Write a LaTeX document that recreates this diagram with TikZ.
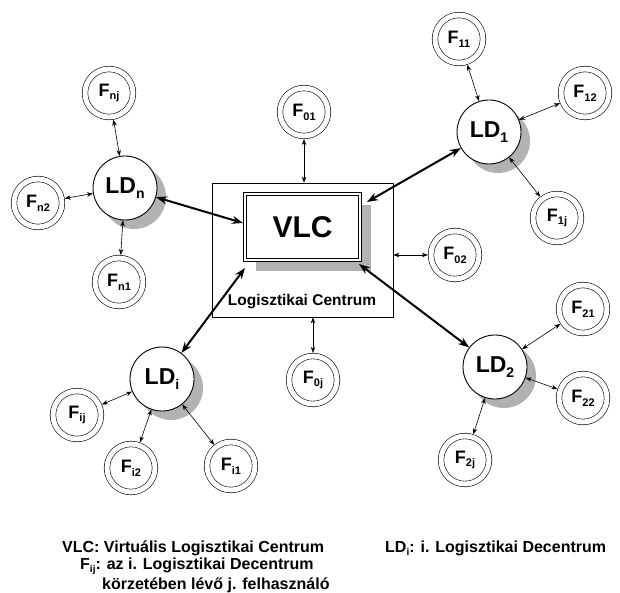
\documentclass[tikz,border=0pt]{standalone}
\usepackage{fontspec}
\setmainfont{Liberation Sans}
\usetikzlibrary{arrows.meta,calc,shadows}
\definecolor{shade}{RGB}{178,178,178}
\newcommand{\fsub}[1]{\raisebox{-0.4ex}{\fontsize{11}{11}\selectfont #1}}
\newcommand{\legsub}[1]{\raisebox{-0.4ex}{\fontsize{10}{10}\selectfont #1}}
\newcommand{\ldsub}[1]{\raisebox{-0.4ex}{\fontsize{14}{14}\selectfont #1}}

\begin{document}
\begin{tikzpicture}[x=1pt,y=-1pt,
  user/.style={circle,draw,line width=0.6pt,double,double distance=5pt,
    minimum size=48pt,inner sep=0pt,outer sep=3.1pt,
    font=\fontsize{18}{18}\selectfont\bfseries},
  decentr/.style={circle,draw,line width=0.9pt,fill=white,minimum size=64pt,
    inner sep=0pt,font=\fontsize{23}{23}\selectfont\bfseries,
    drop shadow={shadow xshift=9pt,shadow yshift=-9pt,fill=shade,opacity=1}},
  link/.style={{Stealth[length=6pt,width=4.5pt]}-{Stealth[length=6pt,width=4.5pt]},line width=0.6pt},
  trunk/.style={{Stealth[length=11pt,width=8pt]}-{Stealth[length=11pt,width=8pt]},line width=2pt},
  legend/.style={anchor=west,inner sep=0pt,font=\fontsize{16}{16}\selectfont\bfseries}]
\useasboundingbox (0,0) rectangle (620,593);
\node[draw,line width=0.8pt,minimum width=181pt,minimum height=134pt] (LC) at (302.5,250) {};
\node[font=\fontsize{15.5}{15.5}\selectfont\bfseries] (lcname) at (302,302) {Logisztikai Centrum};
\node[draw,fill=white,line width=0.8pt,double,double distance=2pt,minimum width=115pt,
  minimum height=66pt,outer sep=0pt,font=\fontsize{30}{30}\selectfont\bfseries,
  drop shadow={shadow xshift=11pt,shadow yshift=-11pt,fill=shade,opacity=1}] (VLC) at (302.5,227) {VLC};
\node[decentr] (LD1) at (489,132) {LD\ldsub{1}};
\node[decentr] (LD2) at (495,367) {LD\ldsub{2}};
\node[decentr] (LDi) at (162,379) {LD\ldsub{i}};
\node[decentr] (LDn) at (125,188) {LD\ldsub{n}};
\foreach \n/\x/\y/\s in {
F01/304/112/01, F02/455/255/02, F0j/313/380/0j,
F11/459/39/11, F12/585/93/12, F1j/557/218/1j,
F21/583/309/21, F22/583/398/22, F2j/465/460/2j,
Fij/77/415/ij, Fi2/131/468/i2, Fi1/231/466/i1,
Fnj/109/93/nj, Fn2/38/203/n2, Fn1/119/282/n1}{
  \node[user] (\n) at (\x,\y) {F\fsub{\s}};
}
\foreach \a/\b in {F11/LD1, F12/LD1, F1j/LD1, F21/LD2, F22/LD2, F2j/LD2,
  Fij/LDi, Fi2/LDi, Fi1/LDi, Fnj/LDn, Fn2/LDn, Fn1/LDn}{
  \draw[link] (\a) -- (\b);
}
\draw[link] (F01) -- (F01 |- LC.north);
\draw[link] (F02) -- (LC.east |- F02);
\draw[link] (F0j) -- (F0j |- LC.south);
\draw[trunk] (LDn) -- ($(VLC.west)+(-2,-4)$);
\draw[trunk] (LD1) -- ($(VLC.north east)+(7,8)$);
\draw[trunk] (LD2) -- ($(VLC.south east)+(-1,4)$);
\draw[trunk] (LDi) -- ($(VLC.south west)+(0,8)$);
\node[legend] (legvlc) at (62,548) {VLC: Virtuális Logisztikai Centrum};
\node[legend] (legld) at (385,548) {LD\legsub{i}: i. Logisztikai Decentrum};
\node[legend] (legf) at (80,566) {F\legsub{ij}: az i. Logisztikai Decentrum};
\node[legend] (legf2) at (102,585) {körzetében lévő j. felhasználó};
\end{tikzpicture}
\end{document}
